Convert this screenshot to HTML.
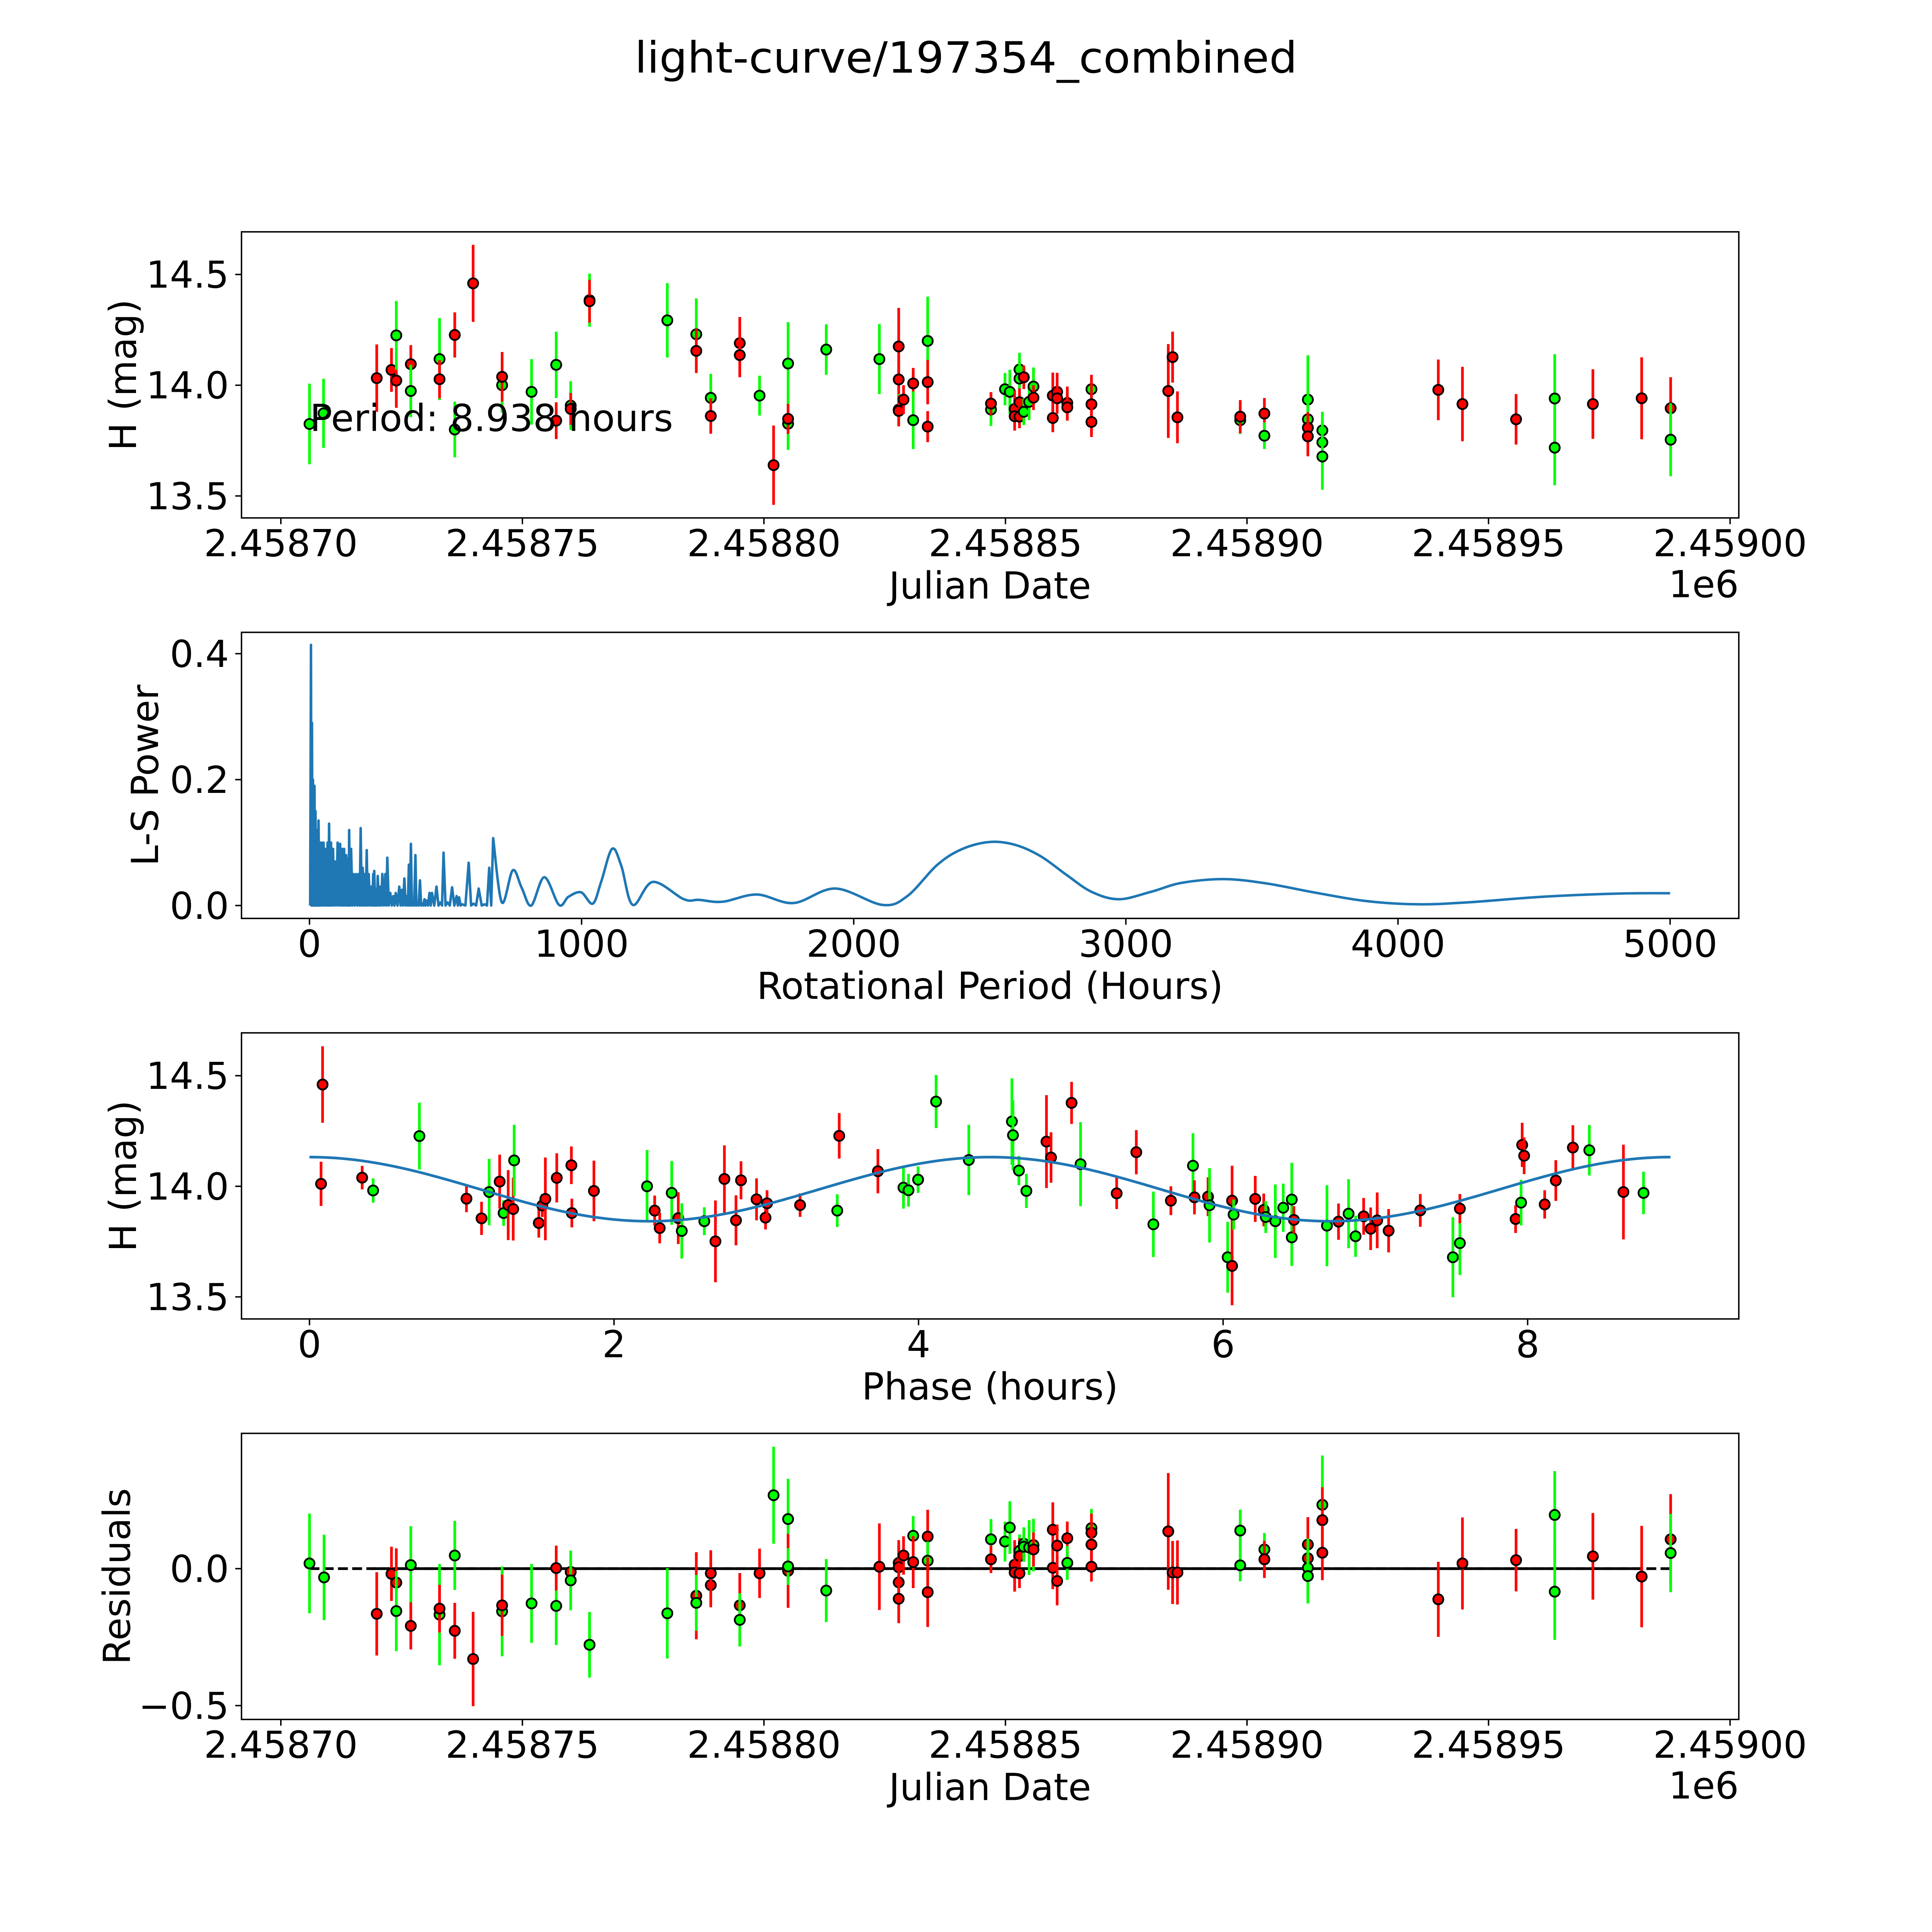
<!DOCTYPE html>
<html><head><meta charset="utf-8"><title>light-curve/197354_combined</title>
<style>
html,body{margin:0;padding:0;background:#fff;overflow:hidden;}
svg{display:block;width:100vw;height:100vh;}
text{font-family:"DejaVu Sans","Liberation Sans",sans-serif;fill:#000;}
</style></head>
<body>
<svg id="fig" xmlns="http://www.w3.org/2000/svg" viewBox="0 0 5400 5400" preserveAspectRatio="none">
<rect x="0" y="0" width="5400" height="5400" fill="#fff"/>
<text x="2700" y="203" font-size="120" text-anchor="middle" textLength="1852" lengthAdjust="spacingAndGlyphs">light-curve/197354_combined</text>
<g id="p1"></g>
<g id="p2"></g>
<g id="p3"></g>
<g id="p4"></g>
<text x="380" y="1048" font-size="104" text-anchor="middle" transform="rotate(-90 380 1048)">H (mag)</text>
<text x="2767" y="1673" font-size="104" text-anchor="middle">Julian Date</text>
<text x="4860" y="1669" font-size="104" text-anchor="end">1e6</text>
<text x="866" y="1205" font-size="104">Period: 8.938 hours</text>
<text x="442" y="2167" font-size="104" text-anchor="middle" transform="rotate(-90 442 2167)">L-S Power</text>
<text x="2767" y="2792" font-size="104" text-anchor="middle">Rotational Period (Hours)</text>
<text x="380" y="3287" font-size="104" text-anchor="middle" transform="rotate(-90 380 3287)">H (mag)</text>
<text x="2767" y="3912" font-size="104" text-anchor="middle">Phase (hours)</text>
<text x="363" y="4406" font-size="104" text-anchor="middle" transform="rotate(-90 363 4406)">Residuals</text>
<text x="2767" y="5031" font-size="104" text-anchor="middle">Julian Date</text>
<text x="4860" y="5027" font-size="104" text-anchor="end">1e6</text>
</svg>
<script>
// ---------- DATA ----------
// Panel 1: light curve (days after JD 2458700)
const lcDay = [5.93,8.84,19.85,22.9,23.9,23.9,26.9,26.9,32.85,32.85,36,36,39.8,45.8,45.8,51.9,57,57,60,60,63.9,63.9,80,86,86,89,89,95,95,99.1,102,105,105,105,112.9,123.9,127.9,127.9,127.9,127.9,128.9,130.9,130.9,133.9,133.9,133.9,147,147,149.9,150.9,151.9,151.9,152.9,152.9,152.9,152.9,153.8,153.8,154.9,155.8,155.8,159.8,159.8,160.7,160.7,162.8,162.8,167.8,167.8,167.8,183.7,184.6,185.6,198.6,198.6,203.6,203.6,212.6,212.6,212.6,212.6,215.6,215.6,215.6,239.6,244.6,255.7,263.7,263.7,271.6,281.7,287.7,287.7];
const lcMag = [13.825,13.873,14.032,14.069,14.021,14.225,14.095,13.974,14.118,14.027,14.227,13.80,14.46,14.0,14.038,13.97,14.092,13.84,13.908,13.893,14.384,14.379,14.293,14.23,14.155,13.943,13.861,14.19,14.136,13.953,13.639,14.098,13.826,13.848,14.161,14.118,14.175,14.026,13.89,13.884,13.935,14.008,13.842,14.2,14.014,13.813,13.89,13.917,13.982,13.97,13.893,13.86,14.071,14.03,13.923,13.858,13.88,14.036,13.925,13.994,13.944,13.953,13.852,13.97,13.941,13.92,13.9,13.982,13.914,13.834,13.974,14.127,13.855,13.842,13.858,13.872,13.772,13.935,13.846,13.808,13.769,13.796,13.742,13.678,13.979,13.915,13.846,13.94,13.718,13.915,13.941,13.896,13.754];
const lcErr = [.182,.156,.152,.099,.123,.155,.086,.118,.185,.086,.102,.126,.174,.124,.112,.148,.15,.083,.11,.072,.12,.096,.168,.162,.1,.108,.08,.118,.1,.09,.179,.187,.118,.068,.114,.158,.174,.09,.07,.07,.065,.07,.13,.2,.1,.07,.074,.052,.073,.1,.083,.065,.075,.077,.063,.052,.06,.053,.082,.086,.056,.104,.064,.086,.07,.074,.06,.052,.133,.068,.212,.115,.117,.062,.075,.07,.06,.2,.12,.07,.09,.084,.1,.15,.137,.168,.114,.2,.17,.157,.185,.14,.165];
const lcBand = "ggrrrgrggrrgrgrggrgrgrggrgrrrgrggrggrrgrrrggrrgrggrrggrrgrggrrrrrrrgrrrrrgrrgggrrgggrrrggrrrg";

// Panel 2: Lomb-Scargle periodogram
const spikePeriod = [5.5,9.2,12.9,18.5,22.1,27.7,33.2,38.7,44.3,51.7,59,66.4,72,79.3,86.7,94.1,103.3,112.5,119.9,127.3,134.7,142.1,145.8,153.1,162.4,171.6,180.8,188.2,195.6,203,210.3,217.7,226.9,234.3,238,245.4,250.9,260.1,267.5,278.6,286,297,308,317,330,339.5,348.7,358,365.3,372.7,380,389.3,396.7,406,415,422.5,429.9,441,450,466.8,481.5,492.6,507.4,524,540.6,549.8,560.9,585,603,621.8,644,660.5];
const spikePower = [.414,.29,.2,.19,.15,.12,.135,.1,.1,.1,.09,.1,.13,.1,.09,.07,.1,.098,.09,.09,.08,.075,.12,.09,.05,.05,.05,.123,.06,.05,.088,.05,.03,.05,.055,.025,.047,.03,.05,.05,.076,.02,.015,.02,.03,.025,.043,.015,.065,.098,.01,.08,.002,.04,.003,.01,.008,.02,.02,.03,.005,.084,.005,.029,.015,.013,.002,.068,.003,.027,.002,.06];
const smoothPeriod = [675,707,747,780,815,863,917,952,998,1041,1072,1112,1146,1188,1262,1376,1432,1518,1644,1779,1932,2105,2197,2308,2400,2502,2596,2688,2781,2873,2974,3094,3205,3361,3518,3702,3886,4071,4255,4532,4808,5000];
const smoothPower = [.107,.005,.056,.028,0,.045,.001,.014,.021,.003,.038,.09,.063,.001,.0375,.01,.009,.006,.0175,.004,.027,.001,.015,.065,.09,.101,.096,.078,.049,.022,.01,.022,.036,.042,.035,.02,.007,.002,.005,.014,.019,.0196];

// Panel 3: phase-folded
const phHours = [.086,.076,.346,.418,.722,1.031,1.13,1.18,1.249,1.275,1.305,1.338,1.344,1.506,1.529,1.549,1.624,1.72,1.723,1.868,2.217,2.267,2.3,2.379,2.422,2.445,2.593,2.666,2.725,2.801,2.834,2.936,2.995,3.005,3.222,3.466,3.479,3.733,3.901,3.934,3.997,4.115,4.33,4.613,4.62,4.659,4.708,4.84,4.87,5.005,5.064,5.301,5.43,5.542,5.657,5.802,5.812,5.901,5.911,6.03,6.059,6.059,6.069,6.211,6.267,6.28,6.343,6.395,6.451,6.451,6.465,6.682,6.758,6.824,6.87,6.923,6.969,7.012,7.087,7.295,7.509,7.555,7.555,7.921,7.957,7.964,7.977,8.112,8.185,8.297,8.405,8.629,8.761];
const phMag = [14.46,14.011,14.039,13.981,14.227,13.944,13.855,13.974,14.021,13.879,13.915,13.897,14.117,13.834,13.913,13.943,14.038,14.095,13.879,13.979,14.0,13.89,13.811,13.97,13.856,13.798,13.842,13.751,14.033,13.846,14.027,13.941,13.858,13.923,13.915,13.89,14.228,14.068,13.994,13.982,14.03,14.383,14.119,14.293,14.231,14.071,13.979,14.202,14.13,14.377,14.1,13.968,14.154,13.828,13.935,14.093,13.95,13.953,13.914,13.679,13.935,13.64,13.872,13.943,13.893,13.861,13.842,13.903,13.94,13.769,13.848,13.822,13.84,13.876,13.774,13.864,13.808,13.846,13.799,13.891,13.679,13.743,13.899,13.852,13.926,14.187,14.138,13.918,14.026,14.175,14.163,13.974,13.97];
const phErr = [.173,.1,.053,.055,.151,.061,.075,.15,.122,.058,.158,.142,.161,.066,.052,.187,.111,.085,.065,.137,.164,.068,.069,.144,.117,.125,.063,.185,.152,.113,.086,.095,.053,.059,.053,.074,.103,.1,.095,.074,.06,.12,.159,.195,.158,.066,.077,.21,.114,.095,.19,.071,.1,.148,.065,.147,.077,.088,.168,.16,.158,.178,.068,.104,.074,.072,.166,.109,.166,.129,.062,.183,.082,.156,.093,.083,.096,.126,.098,.074,.181,.144,.066,.063,.103,.1,.083,.064,.092,.101,.114,.214,.096];
const phBand = "rrrggrrgrgrrgrrrrrrrgrrgrggrrrrrrrrgrrgggggggggrrrgrrgrgrrggrrgrrgggggrgrggrrrrrggrrgrrrrrgrg";
const fitMean = 13.987;
const fitAmp = 0.145;
const fitPeriod = 8.938;

// Panel 4: residuals (days after JD 2458700)
const resDay = [5.93,8.94,19.85,22.9,23.9,23.9,26.9,26.9,32.85,32.85,36,36,39.8,45.8,45.8,51.9,57,57,60,60,63.9,63.9,80,86,86,89,89,95,95,99.1,102,105,105,105,112.9,123.9,127.9,127.9,127.9,127.9,128.9,130.9,130.9,133.9,133.9,133.9,147,147,149.9,150.9,151.9,151.9,152.9,152.9,152.9,153.8,153.8,154.9,155.8,155.8,159.8,159.8,160.7,160.7,162.8,162.8,167.8,167.8,167.8,167.8,183.7,184.6,185.6,198.6,198.6,203.6,203.6,212.6,212.6,212.6,212.6,215.6,215.6,215.6,239.6,244.6,255.7,263.7,263.7,271.6,281.7,287.7,287.7];
const resVal = [.019,-.032,-.165,-.019,-.051,-.155,.013,-.209,-.168,-.146,.048,-.227,-.33,-.156,-.134,-.127,-.136,.002,-.012,-.043,-.278,-.278,-.163,-.099,-.125,-.06,-.017,-.134,-.187,-.017,.268,.181,-.008,.008,-.08,.007,.021,.005,-.05,-.11,.048,.12,.024,.117,.029,-.086,.107,.034,.099,.15,.014,-.014,.065,.046,-.017,.091,.08,.077,.086,.07,.142,.003,.084,-.045,.111,.021,.148,.131,.088,.007,.136,-.014,-.014,.139,.012,.07,.034,.088,.038,.003,-.027,.233,.177,.058,-.112,.019,.031,.196,-.084,.045,-.029,.107,.057];
const resErr = [.182,.156,.152,.099,.125,.146,.142,.086,.185,.087,.126,.102,.172,.164,.112,.144,.143,.082,.076,.109,.095,.12,.165,.159,.102,.081,.084,.118,.097,.09,.177,.147,.135,.067,.115,.158,.083,.08,.072,.089,.07,.072,.095,.098,.07,.127,.074,.05,.073,.096,.09,.07,.06,.065,.054,.06,.055,.1,.096,.062,.1,.078,.077,.089,.061,.062,.07,.07,.07,.054,.213,.115,.117,.076,.058,.06,.068,.1,.07,.107,.1,.18,.12,.1,.137,.168,.114,.16,.176,.158,.185,.165,.143];
const resBand = "ggrrrggrgrgrrgrggrrggggrgrrrgrggrggrrrrrrgrrgrgrggrrgrrggggrrrrrrggrrrrrrgggrrrgggrrrrrggrrrgr";
const zeroSolidStart = 18.5;
const zeroSolidEnd = 282;

// Tick labels
const jdTickDays = [0,50,100,150,200,250,300];
const jdTickLabels = ["2.45870","2.45875","2.45880","2.45885","2.45890","2.45895","2.45900"];
const magTicks = [13.5,14.0,14.5];
const magTickLabels = ["13.5","14.0","14.5"];
const perTicks = [0,1000,2000,3000,4000,5000];
const perTickLabels = ["0","1000","2000","3000","4000","5000"];
const powTicks = [0,0.2,0.4];
const powTickLabels = ["0.0","0.2","0.4"];
const phTicks = [0,2,4,6,8];
const phTickLabels = ["0","2","4","6","8"];
const resTicks = [-0.5,0];
const resTickLabels = ["\u22120.5","0.0"];

// ---------- LAYOUT / SCALES ----------
const NS = "http://www.w3.org/2000/svg";
const L = 675, R = 4860;
const P1 = {top:648, bot:1447.6}, P2 = {top:1767.4, bot:2567}, P3 = {top:2886.9, bot:3686.5}, P4 = {top:4006.3, bot:4805.9};
const xDay = d => 785 + d*13.502;
const yMag1 = h => 1076.7 - (h-14)*619;
const xPer = p => 865 + p*0.7606;
const yPow = v => 2531 - v*1760;
const xPh = p => 865 + p*425.6;
const yMag3 = h => 3315.7 - (h-14)*618.2;
const yRes = v => 4384.4 - v*765.6;
const COL = {r:"#ff0000", g:"#00ff00"};

function mk(tag, attrs, parent){
  const e = document.createElementNS(NS, tag);
  for (const k in attrs) e.setAttribute(k, attrs[k]);
  parent.appendChild(e);
  return e;
}

function frame(g, P, name){
  const r = mk('rect', {x:L, y:P.top, width:R-L, height:P.bot-P.top, fill:'none', stroke:'#000', 'stroke-width':4}, g);
  
  
}
function xTicks(g, P, vals, labels, sx, name){
  vals.forEach((v,i)=>{
    const x = sx(v);
    const t = mk('line', {x1:x, x2:x, y1:P.bot, y2:P.bot+17.5, stroke:'#000', 'stroke-width':4}, g);
    
    
    const tx = mk('text', {x:x, y:P.bot+107, 'font-size':104, 'text-anchor':'middle'}, g);
    tx.textContent = labels[i];
    
    
  });
}
function yTicks(g, vals, labels, sy, name){
  vals.forEach((v,i)=>{
    const y = sy(v);
    const t = mk('line', {x1:L-17.5, x2:L, y1:y, y2:y, stroke:'#000', 'stroke-width':4}, g);
    
    
    const tx = mk('text', {x:L-35, y:y+37, 'font-size':104, 'text-anchor':'end'}, g);
    tx.textContent = labels[i];
    
    
  });
}
function points(g, xs, ys, es, bands, sx, sy){
  for (let i=0;i<xs.length;i++){
    const x = sx(xs[i]), y = sy(ys[i]);
    const c = COL[bands[i]] || COL.r;
    const b = mk('line', {x1:x, x2:x, y1:sy(ys[i]+es[i]), y2:sy(ys[i]-es[i]), stroke:c, 'stroke-width':7.5}, g);
    
    
    const m = mk('circle', {cx:x, cy:y, r:14, fill:c, stroke:'#000', 'stroke-width':5}, g);
    
    
  }
}

// ---------- PANEL 1 ----------
const g1 = document.getElementById('p1');
points(g1, lcDay, lcMag, lcErr, lcBand, xDay, yMag1);
frame(g1, P1, 'light-curve-axes-frame');
xTicks(g1, P1, jdTickDays, jdTickLabels, xDay, 'julian-date');
yTicks(g1, magTicks, magTickLabels, yMag1, 'h-mag');

// ---------- PANEL 2 ----------
const g2 = document.getElementById('p2');
let pts = [];
for (let i=0;i<spikePeriod.length;i++){
  if (i>0) pts.push([(spikePeriod[i-1]+spikePeriod[i])/2, 0]);
  else pts.push([spikePeriod[0]-3, 0]);
  pts.push([spikePeriod[i], spikePower[i]]);
}
pts.push([(spikePeriod[spikePeriod.length-1]+smoothPeriod[0])/2, 0]);
let d = 'M' + pts.map(p=>xPer(p[0]).toFixed(1)+','+yPow(p[1]).toFixed(1)).join(' L');
const sp = smoothPeriod.map((p,i)=>[xPer(p), yPow(smoothPower[i])]);
d += ' L' + sp[0][0].toFixed(1) + ',' + sp[0][1].toFixed(1);
for (let i=0;i<sp.length-1;i++){
  const p0 = sp[Math.max(0,i-1)], p1 = sp[i], p2 = sp[i+1], p3 = sp[Math.min(sp.length-1,i+2)];
  const c1x = p1[0] + (p2[0]-p0[0])/6, c1y = p1[1] + (p2[1]-p0[1])/6;
  const c2x = p2[0] - (p3[0]-p1[0])/6, c2y = p2[1] - (p3[1]-p1[1])/6;
  d += ' C' + c1x.toFixed(1)+','+c1y.toFixed(1)+' '+c2x.toFixed(1)+','+c2y.toFixed(1)+' '+p2[0].toFixed(1)+','+p2[1].toFixed(1);
}
const pl = mk('path', {d:d, fill:'none', stroke:'#1f77b4', 'stroke-width':7, 'stroke-linejoin':'round'}, g2);


frame(g2, P2, 'periodogram-axes-frame');
xTicks(g2, P2, perTicks, perTickLabels, xPer, 'rotational-period');
yTicks(g2, powTicks, powTickLabels, yPow, 'ls-power');

// ---------- PANEL 3 ----------
const g3 = document.getElementById('p3');
const fitPts = [];
for (let k=0;k<=300;k++){
  const p = fitPeriod*k/300;
  fitPts.push(xPh(p).toFixed(1)+','+yMag3(fitMean + fitAmp*Math.cos(4*Math.PI*p/fitPeriod)).toFixed(1));
}
points(g3, phHours, phMag, phErr, phBand, xPh, yMag3);
const fl = mk('polyline', {points: fitPts.join(' '), fill:'none', stroke:'#1f77b4', 'stroke-width':7.5}, g3);


frame(g3, P3, 'phase-axes-frame');
xTicks(g3, P3, phTicks, phTickLabels, xPh, 'phase');
yTicks(g3, magTicks, magTickLabels, yMag3, 'phase-h-mag');

// ---------- PANEL 4 ----------
const g4 = document.getElementById('p4');
const dMin = Math.min(...resDay), dMax = Math.max(...resDay);
const zd = mk('line', {x1:xDay(dMin), x2:xDay(dMax), y1:yRes(0), y2:yRes(0), stroke:'#000', 'stroke-width':7.5, 'stroke-dasharray':'27.75 12'}, g4);


const zs = mk('line', {x1:xDay(zeroSolidStart), x2:xDay(zeroSolidEnd), y1:yRes(0), y2:yRes(0), stroke:'#000', 'stroke-width':7.5}, g4);


points(g4, resDay, resVal, resErr, resBand, xDay, yRes);
frame(g4, P4, 'residuals-axes-frame');
xTicks(g4, P4, jdTickDays, jdTickLabels, xDay, 'residuals-julian-date');
yTicks(g4, resTicks, resTickLabels, yRes, 'residuals');
</script>
</body></html>
